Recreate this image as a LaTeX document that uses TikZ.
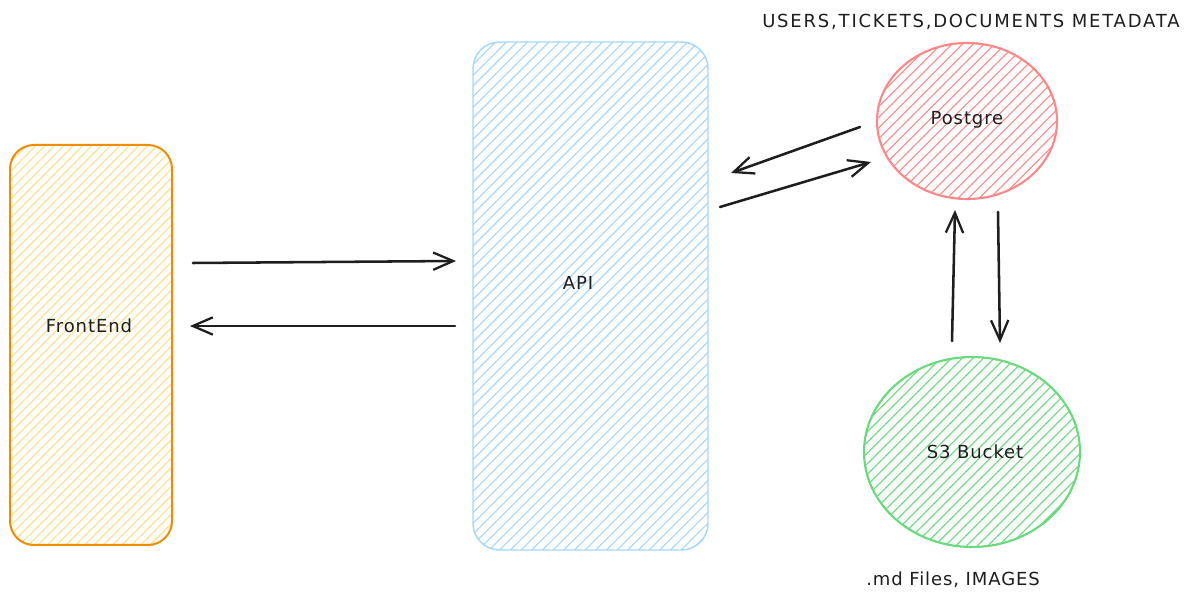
\documentclass[tikz,border=0pt]{standalone}
\usepackage{fontspec}
\setmainfont{DejaVu Sans}
\usetikzlibrary{arrows.meta,shapes.geometric,calc}
\definecolor{ink}{HTML}{1E1E1E}
\definecolor{feStroke}{HTML}{F08C00}
\definecolor{feHatch}{HTML}{FFE38A}
\definecolor{apiStroke}{HTML}{A5D8FF}
\definecolor{pgStroke}{HTML}{FF8787}
\definecolor{s3Stroke}{HTML}{69DB7C}
\tikzset{
  hatch/.style 2 args={path picture={
    \foreach \k in {0,...,90}{
      \draw[#1,line width=0.8pt]
        ([xshift=-420pt+\k*#2]path picture bounding box.south west) -- ++(600pt,600pt);
    }}},
  box/.style={draw,line width=1.5pt,rectangle,inner sep=0pt,outer sep=0pt},
  blob/.style={draw,line width=1.6pt,ellipse,inner sep=0pt,outer sep=0pt},
  lbl/.style={font=\fontsize{13.5}{16}\selectfont\addfontfeatures{LetterSpace=5},text=ink,inner sep=0pt},
  arr/.style={draw=ink,line width=1.9pt,line cap=round,-{Straight Barb[length=15pt,width=13pt,line width=1.7pt]}},
}
\begin{document}
\begin{tikzpicture}[x=0.75pt,y=-0.75pt]
\useasboundingbox[fill=white] (0,0) rectangle (1196,605);
% shapes
\node[box,draw=feStroke,rounded corners=18pt,minimum width=121.5pt,minimum height=300pt,hatch={feHatch}{7pt}] (fe) at (91,345) {};
\node[box,draw=apiStroke,line width=1.1pt,rounded corners=20pt,minimum width=176.25pt,minimum height=381pt,hatch={apiStroke}{8pt}] (api) at (590.5,296) {};
\node[blob,draw=pgStroke,minimum width=135pt,minimum height=117pt,hatch={pgStroke}{8pt}] (pg) at (967,121) {};
\node[blob,draw=s3Stroke,minimum width=162pt,minimum height=142.5pt,hatch={s3Stroke}{8pt}] (s3) at (972,452) {};
% labels
\node[lbl] (feL) at (89,326) {FrontEnd};
\node[lbl] (apiL) at (578,283) {API};
\node[lbl] (pgL) at (967,120) {Postgre};
\node[lbl] (s3L) at (975,452) {S3 Bucket};
\node[lbl,anchor=west] (meta) at (762,22) {\addfontfeatures{LetterSpace=10}USERS,TICKETS,DOCUMENTS METADATA};
\node[lbl,anchor=west] (files) at (866,580) {.md Files, IMAGES};
% connectors
\draw[arr] ([shift={(102,-82)}]fe.center) -- ([shift={(-134.5,-35)}]api.center);
\draw[arr] ([shift={(-135.5,30)}]api.center) -- ([shift={(99,-19)}]fe.center);
\draw[arr] ([shift={(-107,6)}]pg.center) -- ([shift={(140.5,-123)}]api.center);
\draw[arr] ([shift={(129.5,-89)}]api.center) -- ([shift={(-96,41)}]pg.center);
\draw[arr] ([shift={(-20,-111)}]s3.center) -- ([shift={(-12,89)}]pg.center);
\draw[arr] ([shift={(31,91)}]pg.center) -- ([shift={(28,-109)}]s3.center);
\end{tikzpicture}
\end{document}
